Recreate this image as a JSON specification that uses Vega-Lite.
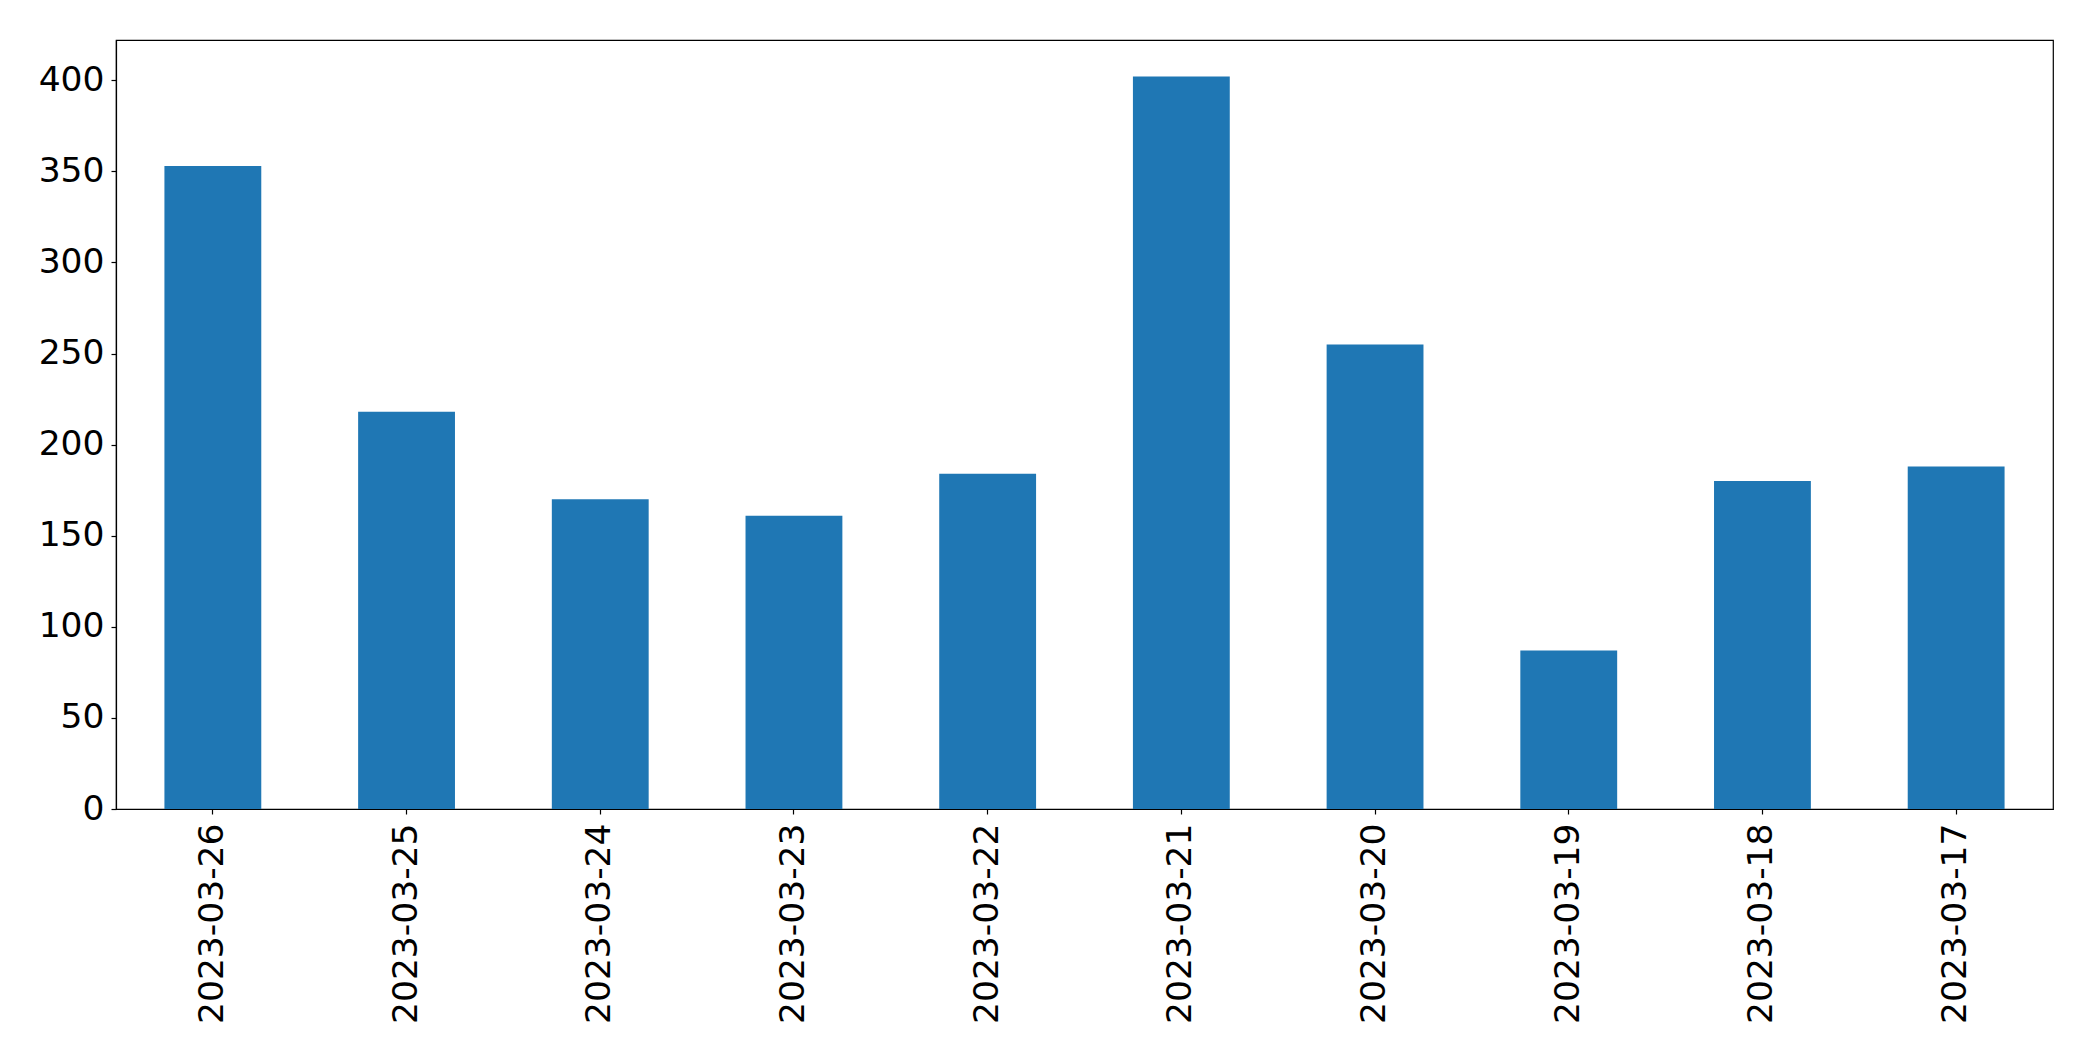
{
  "$schema": "https://vega.github.io/schema/vega-lite/v6.json",
  "autosize": {"type": "none"},
  "padding": {"left": 116, "top": 40, "right": 40, "bottom": 252},
  "width": 1937,
  "height": 769,
  "background": "white",
  "config": {
    "view": {"stroke": "black", "strokeWidth": 1.2},
    "font": "DejaVu Sans",
    "axis": {
      "domainColor": "black",
      "domainWidth": 1.2,
      "tickColor": "black",
      "tickSize": 5,
      "tickWidth": 1.2,
      "labelColor": "black",
      "labelFont": "DejaVu Sans",
      "labelFontSize": 34.5,
      "labelLimit": 0,
      "grid": false,
      "title": null
    }
  },
  "data": {
    "values": [
      {"date": "2023-03-26", "count": 353},
      {"date": "2023-03-25", "count": 218},
      {"date": "2023-03-24", "count": 170},
      {"date": "2023-03-23", "count": 161},
      {"date": "2023-03-22", "count": 184},
      {"date": "2023-03-21", "count": 402},
      {"date": "2023-03-20", "count": 255},
      {"date": "2023-03-19", "count": 87},
      {"date": "2023-03-18", "count": 180},
      {"date": "2023-03-17", "count": 188}
    ]
  },
  "mark": {"type": "bar", "color": "#1f77b4"},
  "encoding": {
    "x": {
      "field": "date",
      "type": "nominal",
      "sort": null,
      "scale": {"paddingInner": 0.5, "paddingOuter": 0.25},
      "axis": {"labelAngle": -90, "labelPadding": 9, "labelBaseline": "middle"}
    },
    "y": {
      "field": "count",
      "type": "quantitative",
      "scale": {"domain": [0, 422.1], "nice": false, "zero": true},
      "axis": {"values": [0, 50, 100, 150, 200, 250, 300, 350, 400], "labelPadding": 7}
    }
  }
}
